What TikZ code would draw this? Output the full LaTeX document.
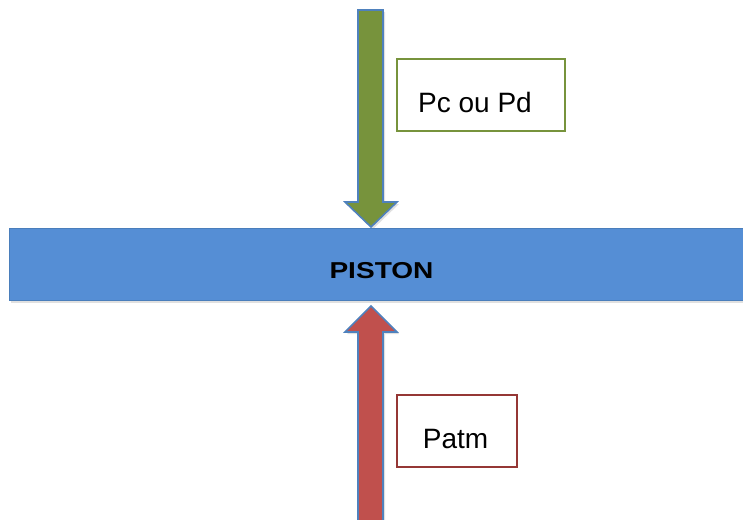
\documentclass[tikz,border=0pt]{standalone}
\usepackage{fontspec}
\setmainfont{Liberation Sans}
\usetikzlibrary{positioning}
\definecolor{arrowblue}{HTML}{4F81BD}
\definecolor{pgreen}{HTML}{77933C}
\definecolor{pred}{HTML}{C0504D}
\definecolor{pboxred}{HTML}{953735}
\definecolor{pistonfill}{HTML}{558ED5}
\definecolor{pistonedge}{HTML}{4A7EBB}
\tikzset{
  arrowshape/.style={draw=arrowblue, line width=1.6pt, line join=miter},
  shadowshape/.style={fill=black, opacity=0.12, draw=none},
  labelbox/.style={draw, line width=1.5pt, fill=white, inner sep=0pt},
  labeltext/.style={font=\fontsize{28}{30}\selectfont, anchor=base, inner sep=0pt},
}
\begin{document}
\begin{tikzpicture}[x=1pt,y=-1pt]
\useasboundingbox (0,0) rectangle (743,519);
\fill[white] (0,0) rectangle (743,519);
% shadows
\fill[shadowshape] (360,12) -- (385,12) -- (385,204) -- (399,204) -- (373,229) -- (347,204) -- (360,204) -- cycle;
\fill[shadowshape] (373,308) -- (399,334) -- (385,334) -- (385,525) -- (360,525) -- (360,334) -- (347,334) -- cycle;
\fill[shadowshape] (11,230) rectangle (750,303);
% green arrow
\draw[arrowshape, fill=pgreen] (358,10) -- (383,10) -- (383,202) -- (397,202) -- (371,227) -- (345,202) -- (358,202) -- cycle;
% red arrow
\draw[arrowshape, fill=pred] (371,306) -- (397,332) -- (383,332) -- (383,525) -- (358,525) -- (358,332) -- (345,332) -- cycle;
% piston
\node[draw=pistonedge, line width=0.8pt, fill=pistonfill, minimum width=741pt, minimum height=72pt, inner sep=0pt, anchor=north west] (piston) at (9,228) {};
\node[anchor=base, inner sep=0pt, font=\fontsize{23}{25}\selectfont\bfseries] (pistonlabel) at (381.5,278.5) {\scalebox{1.22}[1]{PISTON}};
% label boxes
\node[labelbox, draw=pgreen, minimum width=168pt, minimum height=72pt, anchor=north west] (pbox) at (396,58) {};
\node[labeltext] (ptext) at (475,112) {Pc ou Pd};
\node[labelbox, draw=pboxred, minimum width=120pt, minimum height=72pt, anchor=north west] (abox) at (396,394) {};
\node[labeltext] (atext) at (455.5,448) {Patm};
\end{tikzpicture}
\end{document}
